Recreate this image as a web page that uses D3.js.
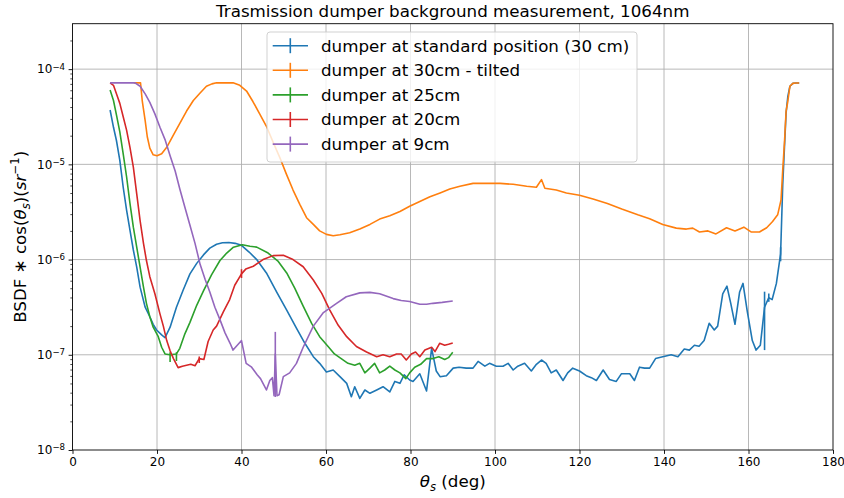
<!DOCTYPE html>
<html><head><meta charset="utf-8">
<script src="https://cdn.jsdelivr.net/npm/d3@7"></script>
<style>body{margin:0;background:#fff} text{font-family:"DejaVu Sans",sans-serif}</style>
</head><body><svg id="c" width="844" height="498"></svg>
<script>
// ---------------- data ----------------
const seriesNames = ["dumper at standard position (30 cm)","dumper at 30cm - tilted","dumper at 25cm","dumper at 20cm","dumper at 9cm"];
const seriesColors = ["#1f77b4","#ff7f0e","#2ca02c","#d62728","#9467bd"];
const xTicks = [0,20,40,60,80,100,120,140,160,180];
const yTicks = [1e-8,1e-7,1e-6,1e-5,1e-4];
const yTickExps = ["−8","−7","−6","−5","−4"];

const thetaBlue = [8.9,9.7,10.4,11.2,12.0,12.8,13.6,14.4,15.2,16.0,
17.2,18.3,19.1,19.9,21.1,21.9,23.1,24.6,26.2,27.8,
29.4,31.0,32.5,34.1,35.5,37.0,38.5,40.0,41.8,43.6,
45.9,48.3,50.7,53.0,55.0,57.0,58.5,60.1,61.7,63.3,
64.9,66.0,66.8,68.0,69.2,70.4,72.0,73.5,75.1,76.3,
77.5,78.5,79.8,80.6,82.2,83.8,85.0,86.1,87.0,88.5,
90.1,91.5,93.2,94.8,96.0,97.6,98.7,100.3,101.9,103.1,
104.3,105.4,107.0,108.6,109.8,111.0,112.1,113.3,114.5,116.1,
117.2,118.4,120.0,121.6,122.8,124.0,125.6,127.1,128.7,129.9,
131.9,133.0,134.2,135.4,136.6,138.0,139.7,141.7,143.3,144.8,
146.0,147.2,148.3,149.5,150.7,151.9,152.7,153.9,154.9,155.8,
156.8,157.9,158.7,159.7,160.9,161.8,162.8,163.8,164.8,165.6,
166.6,167.6,168.1,168.5,168.9,169.3,169.8,170.5,171.2,172.0];
const bsdfBlue = [3.72e-5,2.45e-5,1.78e-5,1.10e-5,5.75e-6,3.31e-6,2.04e-6,1.26e-6,8.32e-7,5.13e-7,
3.16e-7,2.51e-7,2.09e-7,1.82e-7,1.62e-7,1.51e-7,1.95e-7,3.16e-7,4.79e-7,7.08e-7,
9.12e-7,1.12e-6,1.32e-6,1.45e-6,1.50e-6,1.51e-6,1.48e-6,1.41e-6,1.20e-6,1.00e-6,
7.24e-7,4.57e-7,2.95e-7,1.91e-7,1.32e-7,9.55e-8,8.13e-8,6.61e-8,6.92e-8,5.89e-8,
5.01e-8,3.63e-8,4.62e-8,3.49e-8,4.27e-8,3.94e-8,4.27e-8,4.62e-8,4.07e-8,5.25e-8,
5.01e-8,6.17e-8,5.43e-8,5.25e-8,6.31e-8,4.17e-8,1.17e-7,6.76e-8,5.89e-8,6.03e-8,
7.24e-8,7.41e-8,7.24e-8,7.24e-8,8.51e-8,7.59e-8,8.13e-8,7.59e-8,7.59e-8,8.13e-8,
6.92e-8,7.59e-8,8.13e-8,6.76e-8,7.94e-8,8.81e-8,8.13e-8,6.46e-8,6.92e-8,5.37e-8,
6.46e-8,7.24e-8,6.76e-8,6.03e-8,5.75e-8,5.37e-8,6.92e-8,5.50e-8,5.25e-8,6.31e-8,
6.31e-8,5.37e-8,7.41e-8,7.24e-8,7.24e-8,9.12e-8,9.55e-8,1.00e-7,9.55e-8,1.15e-7,
1.12e-7,1.26e-7,1.23e-7,1.41e-7,2.14e-7,1.82e-7,2.00e-7,4.37e-7,5.25e-7,3.47e-7,
2.09e-7,4.57e-7,5.62e-7,2.88e-7,1.41e-7,1.12e-7,1.26e-7,3.16e-7,3.98e-7,3.80e-7,
5.62e-7,1.15e-6,6.03e-6,1.48e-5,3.47e-5,5.13e-5,6.61e-5,7.08e-5,7.16e-5,7.16e-5];

const thetaOrange = [14.5,16.1,16.5,17.2,17.7,18.3,19.1,20.0,21.1,22.3,
23.9,25.4,27.0,28.6,30.2,31.7,33.0,34.1,36.0,38.0,
39.6,41.2,42.7,44.3,45.9,47.5,49.1,50.6,52.2,53.8,
55.4,57.0,58.5,60.1,61.7,63.3,65.6,68.0,70.4,72.7,
75.1,77.5,79.8,82.2,84.6,87.0,89.3,91.7,94.8,98.0,
101.2,104.3,107.5,109.8,111.0,111.8,114.5,116.9,120.0,123.2,
126.6,130.0,133.8,136.6,139.7,142.9,145.3,146.8,148.4,150.4,
152.3,154.8,156.8,158.9,160.6,162.6,164.3,165.7,166.9,167.7,
168.1,168.5,168.9,169.3,169.8,170.5,171.2,172.0];
const bsdfOrange = [7.18e-5,7.18e-5,4.68e-5,2.88e-5,1.95e-5,1.48e-5,1.26e-5,1.23e-5,1.29e-5,1.51e-5,
2.04e-5,2.69e-5,3.63e-5,4.68e-5,5.62e-5,6.61e-5,7.00e-5,7.18e-5,7.18e-5,7.18e-5,
6.76e-5,5.89e-5,4.57e-5,3.39e-5,2.51e-5,1.70e-5,1.17e-5,7.94e-6,5.37e-6,3.80e-6,
2.75e-6,2.34e-6,2.00e-6,1.84e-6,1.78e-6,1.82e-6,1.91e-6,2.09e-6,2.34e-6,2.66e-6,
2.88e-6,3.20e-6,3.63e-6,4.07e-6,4.57e-6,5.01e-6,5.50e-6,5.89e-6,6.31e-6,6.31e-6,
6.31e-6,6.17e-6,5.89e-6,5.75e-6,6.92e-6,5.62e-6,5.37e-6,5.01e-6,4.73e-6,4.32e-6,
3.89e-6,3.39e-6,2.95e-6,2.69e-6,2.34e-6,2.14e-6,2.09e-6,2.14e-6,1.95e-6,2.00e-6,
1.86e-6,2.16e-6,2.00e-6,2.19e-6,1.95e-6,1.95e-6,2.16e-6,2.51e-6,2.95e-6,4.22e-6,
8.71e-6,1.66e-5,3.63e-5,4.57e-5,6.61e-5,7.08e-5,7.16e-5,7.16e-5];

const thetaGreen = [8.9,9.7,10.4,11.2,12.0,12.8,13.6,14.4,15.2,16.0,
16.8,17.5,18.3,19.1,20.3,21.1,21.9,23.1,24.6,25.4,
26.6,27.8,29.4,31.0,32.9,34.9,36.5,38.1,40.2,42.0,
43.6,46.3,48.7,50.7,52.6,54.6,56.6,58.5,60.5,62.0,
63.6,65.2,66.8,68.0,69.2,70.4,71.5,72.7,73.9,75.1,
76.3,77.5,78.9,79.8,81.0,82.4,83.8,85.3,86.7,88.1,
89.0,90.0];
const bsdfGreen = [6.03e-5,4.68e-5,3.31e-5,2.19e-5,1.29e-5,7.41e-6,3.89e-6,2.19e-6,1.35e-6,8.32e-7,
5.13e-7,3.47e-7,2.51e-7,1.95e-7,1.55e-7,1.20e-7,1.02e-7,1.00e-7,1.02e-7,1.17e-7,
1.66e-7,2.19e-7,3.31e-7,4.68e-7,6.92e-7,9.77e-7,1.17e-6,1.35e-6,1.43e-6,1.38e-6,
1.35e-6,1.17e-6,9.55e-7,7.24e-7,5.01e-7,3.24e-7,2.14e-7,1.55e-7,1.22e-7,1.02e-7,
9.12e-8,8.13e-8,7.76e-8,8.13e-8,6.46e-8,7.24e-8,8.13e-8,6.46e-8,6.92e-8,7.59e-8,
6.92e-8,6.46e-8,5.62e-8,6.46e-8,7.41e-8,7.94e-8,9.12e-8,9.12e-8,9.55e-8,8.91e-8,
9.33e-8,1.06e-7];

const thetaRed = [8.9,9.7,10.4,11.2,12.0,12.8,13.6,14.4,15.2,16.0,
16.8,17.5,18.3,19.5,20.7,21.5,22.3,23.1,23.9,25.0,
26.0,27.0,28.0,29.0,30.0,31.1,32.1,33.3,34.1,35.7,
37.2,38.4,40.0,41.0,42.8,45.1,47.5,49.9,52.2,54.6,
57.0,59.0,60.9,62.9,64.9,67.2,69.6,72.0,73.5,75.1,
76.7,77.8,79.0,80.2,81.2,82.2,83.4,85.0,85.8,86.9,
88.1,89.0,90.0];
const bsdfRed = [7.18e-5,6.76e-5,5.50e-5,4.37e-5,3.16e-5,2.29e-5,1.51e-5,9.33e-6,4.90e-6,2.57e-6,
1.48e-6,9.77e-7,6.61e-7,4.37e-7,2.69e-7,2.00e-7,1.41e-7,1.10e-7,9.12e-8,7.33e-8,
7.59e-8,7.76e-8,7.94e-8,7.67e-8,9.12e-8,8.91e-8,1.38e-7,1.82e-7,2.00e-7,2.82e-7,
3.80e-7,5.37e-7,7.08e-7,7.94e-7,8.51e-7,1.00e-6,1.10e-6,1.11e-6,1.00e-6,8.41e-7,
6.10e-7,4.42e-7,2.95e-7,2.04e-7,1.55e-7,1.22e-7,1.07e-7,9.55e-8,1.00e-7,9.55e-8,
1.02e-7,1.02e-7,8.81e-8,1.02e-7,1.07e-7,9.55e-8,1.12e-7,1.20e-7,1.08e-7,1.32e-7,
1.26e-7,1.29e-7,1.33e-7];

const thetaPurple = [8.9,10.5,12.0,13.5,14.8,16.0,17.2,18.3,19.5,20.7,
21.9,23.1,24.3,25.4,26.6,27.8,29.0,30.2,31.4,32.5,
33.7,34.9,36.1,37.3,38.0,39.0,40.0,41.1,42.4,43.7,
44.5,45.9,46.7,47.3,47.7,48.0,48.4,48.9,49.9,51.4,
53.0,54.6,57.0,59.3,62.5,64.8,68.0,70.4,72.7,75.9,
77.8,79.8,82.2,83.8,85.3,87.5,90.0];
const bsdfPurple = [7.18e-5,7.18e-5,7.18e-5,7.18e-5,7.18e-5,6.61e-5,5.50e-5,4.47e-5,3.39e-5,2.45e-5,
1.82e-5,1.23e-5,8.51e-6,5.50e-6,3.55e-6,2.29e-6,1.48e-6,8.91e-7,6.17e-7,4.57e-7,
3.16e-7,2.34e-7,1.70e-7,1.32e-7,1.12e-7,1.26e-7,1.41e-7,8.13e-8,7.41e-8,6.17e-8,
5.62e-8,4.27e-8,5.37e-8,5.75e-8,3.72e-8,1.02e-7,3.72e-8,3.80e-8,5.89e-8,6.46e-8,
8.13e-8,1.20e-7,2.00e-7,2.75e-7,3.47e-7,4.07e-7,4.47e-7,4.52e-7,4.37e-7,3.89e-7,
3.72e-7,3.63e-7,3.39e-7,3.39e-7,3.47e-7,3.55e-7,3.67e-7];

// notable error bars: [series index, theta, low, high]
const errorBars = [
  [4, 48.0, 3.6e-8, 1.74e-7],
  [0, 163.8, 1.12e-7, 4.6e-7],
  [2, 23.1, 8.4e-8, 1.06e-7],
  [2, 24.6, 8.6e-8, 1.06e-7],
  [3, 40.0, 6.4e-7, 7.9e-7],
  [3, 30.0, 8.2e-8, 9.6e-8],
  [0, 167.6, 9.6e-7, 1.35e-6],
  [0, 164.8, 3.6e-7, 4.4e-7]
];

const seriesTheta = [thetaBlue, thetaOrange, thetaGreen, thetaRed, thetaPurple];
const seriesBsdf = [bsdfBlue, bsdfOrange, bsdfGreen, bsdfRed, bsdfPurple];

// ---------------- layout ----------------
const L = 72.5, R = 833, T = 23.7, B = 450;
const svg = d3.select("#c");
const x = d3.scaleLinear().domain([0,180]).range([L,R]);
const y = d3.scaleLog().domain([1e-8,3e-4]).range([B,T]);

// grid
const grid = svg.append("g").attr("stroke","#b0b0b0").attr("stroke-width",0.9);
xTicks.forEach(t=>{ if(t>0 && t<180) grid.append("line").attr("x1",x(t)).attr("x2",x(t)).attr("y1",T).attr("y2",B); });
yTicks.forEach(t=>{ if(t>1e-8) grid.append("line").attr("x1",L).attr("x2",R).attr("y1",y(t)).attr("y2",y(t)); });

// clip
svg.append("clipPath").attr("id","clip").append("rect").attr("x",L).attr("y",T).attr("width",R-L).attr("height",B-T);
const plot = svg.append("g").attr("clip-path","url(#clip)");
const line = d3.line().x(d=>x(d[0])).y(d=>y(d[1]));
seriesTheta.forEach((th,i)=>{
  const pts = d3.zip(th, seriesBsdf[i]);
  plot.append("path").datum(pts).attr("d",line).attr("fill","none")
    .attr("stroke",seriesColors[i]).attr("stroke-width",1.6).attr("stroke-linejoin","round");
  errorBars.filter(e=>e[0]===i).forEach(e=>{
    plot.append("line").attr("x1",x(e[1])).attr("x2",x(e[1])).attr("y1",y(e[2])).attr("y2",y(e[3]))
      .attr("stroke",seriesColors[i]).attr("stroke-width",1.6);
  });
});

// axes
const xAxis = d3.axisBottom(x).tickValues(xTicks).tickSize(3.9).tickPadding(3.5).tickFormat(d3.format("d"));
const gx = svg.append("g").attr("transform",`translate(0,${B})`).call(xAxis);
gx.select(".domain").remove();
gx.selectAll("text").attr("font-size",12).attr("font-family","DejaVu Sans").attr("fill","#000");
gx.selectAll("line").attr("stroke","#000").attr("stroke-width",0.9);

const minorVals = [];
for (let e=-8; e<=-4; e++) for (let m=2; m<=9; m++){ const v=m*Math.pow(10,e); if (v<=3e-4) minorVals.push(v); }
const gym = svg.append("g").attr("transform",`translate(${L},0)`)
  .call(d3.axisLeft(y).tickValues(minorVals).tickSize(2.2).tickFormat(""));
gym.select(".domain").remove();
gym.selectAll("line").attr("stroke","#000").attr("stroke-width",0.7);

const gy = svg.append("g").attr("transform",`translate(${L},0)`)
  .call(d3.axisLeft(y).tickValues(yTicks).tickSize(3.9).tickPadding(3.5));
gy.select(".domain").remove();
gy.selectAll("line").attr("stroke","#000").attr("stroke-width",0.9);
gy.selectAll(".tick text").each(function(d,i){
  const t = d3.select(this);
  t.text(null).attr("font-size",12).attr("font-family","DejaVu Sans").attr("fill","#000");
  t.append("tspan").text("10");
  t.append("tspan").attr("dy","-0.45em").attr("font-size","0.72em").text(yTickExps[i]);
});

// spines
svg.append("rect").attr("x",L).attr("y",T).attr("width",R-L).attr("height",B-T)
  .attr("fill","none").attr("stroke","#000").attr("stroke-width",0.9);

// title
svg.append("text").attr("x",(L+R)/2).attr("y",17).attr("text-anchor","middle")
  .attr("font-size",16.7).text("Trasmission dumper background measurement, 1064nm");

// x label
const xl = svg.append("text").attr("x",(L+R)/2).attr("y",487).attr("text-anchor","middle").attr("font-size",16.7);
xl.append("tspan").attr("font-style","italic").text("θ");
xl.append("tspan").attr("font-style","italic").attr("font-size","0.7em").attr("dy","0.3em").text("s");
xl.append("tspan").attr("dy","-0.21em").text(" (deg)");

// y label
const yl = svg.append("text").attr("transform",`translate(26,${(T+B)/2}) rotate(-90)`).attr("text-anchor","middle").attr("font-size",16.7);
yl.append("tspan").text("BSDF ∗ cos(");
yl.append("tspan").attr("font-style","italic").text("θ");
yl.append("tspan").attr("font-style","italic").attr("font-size","0.7em").attr("dy","0.3em").text("s");
yl.append("tspan").attr("dy","-0.21em").text(")(");
yl.append("tspan").attr("font-style","italic").text("sr");
yl.append("tspan").attr("font-size","0.7em").attr("dy","-0.6em").text("−1");
yl.append("tspan").attr("dy","0.42em").text(")");

// legend
const lg = svg.append("g");
lg.append("rect").attr("x",267).attr("y",32).attr("width",370).attr("height",130).attr("rx",3)
  .attr("fill","#fff").attr("fill-opacity",0.8).attr("stroke","#cccccc").attr("stroke-width",0.9);
seriesNames.forEach((n,i)=>{
  const cy = 45.7 + i*24.6;
  lg.append("line").attr("x1",272.7).attr("x2",308).attr("y1",cy).attr("y2",cy).attr("stroke",seriesColors[i]).attr("stroke-width",1.6);
  lg.append("line").attr("x1",290.3).attr("x2",290.3).attr("y1",cy-7.5).attr("y2",cy+7.5).attr("stroke",seriesColors[i]).attr("stroke-width",1.6);
  lg.append("text").attr("x",321).attr("y",cy+5.9).attr("font-size",16.7).text(n);
});
</script></body></html>
